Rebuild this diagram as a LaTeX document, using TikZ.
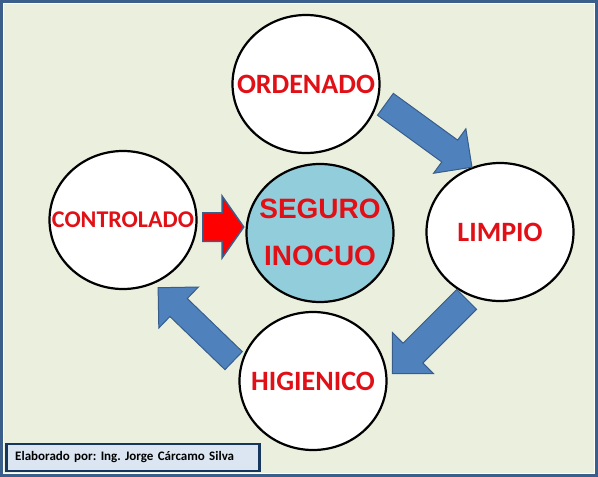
\documentclass[tikz,border=0pt]{standalone}
\usepackage{fontspec}
\setmainfont{Carlito}
\newfontfamily\arialb{Liberation Sans}
\usepackage{tikz}
\usetikzlibrary{shapes.geometric,shapes.arrows}
\frenchspacing

\definecolor{fondo}{RGB}{235,240,222}
\definecolor{marco}{RGB}{58,95,139}
\definecolor{rojo}{RGB}{224,16,22}
\definecolor{celeste}{RGB}{146,205,220}
\definecolor{azul}{RGB}{79,129,189}
\definecolor{azulb}{RGB}{56,93,138}
\definecolor{pie}{RGB}{220,230,242}
\definecolor{piem}{RGB}{23,54,93}

\newcommand{\rotulo}[1]{\makebox[0pt]{#1}}

\tikzset{
  etapa/.style={ellipse, draw=black, line width=2.2pt, fill=white,
    minimum width=147pt, minimum height=138pt, inner sep=0pt,
    text=rojo, font=\bfseries\fontsize{28}{30}\selectfont},
  flecha/.style={single arrow, draw=azulb, line width=1pt, fill=azul,
    inner xsep=0pt, inner ysep=13pt, single arrow tip angle=90, anchor=tail}
}

\begin{document}
\begin{tikzpicture}[x=1pt, y=-1pt]
    \useasboundingbox (0,0) rectangle (598,477);
    \fill[marco] (0,0) rectangle (598,477);
    \fill[white] (3,3) rectangle (595,474);
    \fill[fondo] (4,4) rectangle (594,473);

    \node (O) [etapa] at (306,84) {\rotulo{ORDENADO}};
    \node (L) [etapa] at (500,232) {\rotulo{LIMPIO}};
    \node (H) [etapa] at (313,381) {\rotulo{HIGIENICO}};
    \node (C) [etapa, font=\bfseries\fontsize{24}{26}\selectfont] at (123,220) {\rotulo{CONTROLADO}};
    \node (S) [etapa, fill=celeste, font=\arialb\bfseries\fontsize{28}{47}\selectfont]
      at (320,233) {\rotulo{\begin{tabular}{@{}c@{}}SEGURO\\INOCUO\end{tabular}}};

    \node (OL) [flecha, rotate=-36, minimum height=107pt,
      single arrow head extend=14pt] at (385,104) {};
    \node (LH) [flecha, rotate=-135, minimum height=105pt, inner ysep=13.5pt,
      single arrow head extend=15pt] at (467,299) {};
    \node (HC) [flecha, rotate=136, minimum height=105pt, inner ysep=12pt,
      single arrow head extend=16pt] at (234,361) {};
    \node (CS) [flecha, fill=red, draw=marco, line width=1.5pt, single arrow tip angle=110,
      minimum height=41pt, inner ysep=13.5pt, single arrow head extend=16.5pt] at (202,227) {};

    \node (firma) [draw=piem, line width=2.5pt, fill=pie, anchor=west,
      minimum width=253pt, minimum height=27pt, inner xsep=9pt, text width=235pt, align=left,
      font=\bfseries\fontsize{13}{15}\selectfont] at (5,457.5) {Elaborado por: Ing. Jorge Cárcamo Silva};
\end{tikzpicture}
\end{document}
